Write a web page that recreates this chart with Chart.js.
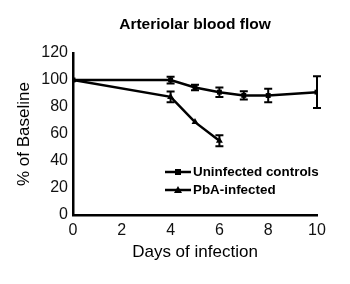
<!DOCTYPE html>
<html><head><meta charset="utf-8">
<script src="https://cdn.jsdelivr.net/npm/chart.js@4/dist/chart.umd.min.js"></script>
<style>html,body{margin:0;padding:0;background:#fff}#wrap{width:350px;height:284px;position:relative}</style>
</head><body><div id="wrap"><canvas id="c" width="350" height="284"></canvas></div>
<script>
const days_uninfected = [0, 4, 5, 6, 7, 8, 10];
const uninfected = [100, 100, 94.5, 91, 88.6, 88.5, 91];
const uninfected_err = [0, 2.5, 2, 3.5, 3, 5, 11.7];
const days_infected = [0, 4, 5, 6];
const infected = [100, 87.5, 68.8, 55];
const infected_err = [0, 4, 0, 4];
const seriesNames = ["Uninfected controls", "PbA-infected"];
const chartTitle = "Arteriolar blood flow";
const xTitle = "Days of infection";
const yTitle = "% of Baseline";
const FONT = "Arial, 'Liberation Sans', sans-serif";

const errorBars = {
  id: 'errorBars',
  afterDatasetsDraw(chart) {
    const ctx = chart.ctx, xs = chart.scales.x, ys = chart.scales.y;
    ctx.save();
    ctx.strokeStyle = '#000'; ctx.lineWidth = 2;
    chart.data.datasets.forEach(ds => {
      ds.data.forEach((p, i) => {
        const e = ds.err[i]; if (!e) return;
        const x = xs.getPixelForValue(p.x);
        const y1 = ys.getPixelForValue(p.y + e), y2 = ys.getPixelForValue(p.y - e);
        ctx.beginPath();
        ctx.moveTo(x, y1); ctx.lineTo(x, y2);
        ctx.moveTo(x - 4, y1); ctx.lineTo(x + 4, y1);
        ctx.moveTo(x - 4, y2); ctx.lineTo(x + 4, y2);
        ctx.stroke();
      });
    });
    ctx.restore();
  }
};

const extras = {
  id: 'extras',
  afterDraw(chart) {
    const ctx = chart.ctx;
    ctx.save();
    ctx.fillStyle = '#000';
    ctx.font = 'bold 15.5px ' + FONT;
    ctx.textAlign = 'center'; ctx.textBaseline = 'middle';
    ctx.fillText(chartTitle, 195, 25);
    // legend
    const items = [[seriesNames[0], 'rect', 172], [seriesNames[1], 'triangle', 190]];
    ctx.font = 'bold 13.4px ' + FONT;
    ctx.textAlign = 'left';
    items.forEach(([label, style, y]) => {
      ctx.strokeStyle = '#000'; ctx.lineWidth = 2.5;
      ctx.beginPath(); ctx.moveTo(165, y); ctx.lineTo(191, y); ctx.stroke();
      ctx.beginPath();
      if (style === 'rect') { ctx.rect(175, y - 3, 6, 6); }
      else { ctx.moveTo(178, y - 4); ctx.lineTo(182, y + 3); ctx.lineTo(174, y + 3); ctx.closePath(); }
      ctx.fill();
      ctx.fillText(label, 193, y + 0.5);
    });
    ctx.restore();
  }
};

new Chart(document.getElementById('c'), {
  type: 'scatter',
  data: {
    datasets: [
      { label: seriesNames[0], data: days_uninfected.map((d, i) => ({x: d, y: uninfected[i]})), err: uninfected_err,
        showLine: true, borderColor: '#000', backgroundColor: '#000', borderWidth: 2.5,
        pointStyle: 'rect', pointRadius: 3.5, pointBorderWidth: 0 },
      { label: seriesNames[1], data: days_infected.map((d, i) => ({x: d, y: infected[i]})), err: infected_err,
        showLine: true, borderColor: '#000', backgroundColor: '#000', borderWidth: 2.5,
        pointStyle: 'triangle', pointRadius: 4, pointBorderWidth: 0 }
    ]
  },
  options: {
    responsive: false, animation: false,
    layout: { padding: { top: 53, right: 33, left: 0, bottom: 0 } },
    plugins: { legend: { display: false }, title: { display: false }, tooltip: { enabled: false } },
    scales: {
      x: {
        type: 'linear', min: 0, max: 10,
        afterFit: s => { s.height = 69; },
        grid: { display: false, drawOnChartArea: false, tickLength: 4, tickColor: '#000', tickWidth: 2 },
        border: { color: '#000', width: 2.5 },
        ticks: { stepSize: 1, color: '#111', font: { family: FONT, size: 16 }, padding: 2,
          callback: v => (v % 2 === 0 ? String(v) : '') },
        title: { display: true, text: xTitle, color: '#000', font: { family: FONT, size: 17 }, padding: { top: 0, bottom: 21 } }
      },
      y: {
        type: 'linear', min: 0, max: 120,
        afterFit: s => { s.width = 73; },
        grid: { display: false, drawOnChartArea: false, tickLength: 4, tickColor: '#000', tickWidth: 2 },
        border: { color: '#000', width: 2.5 },
        ticks: { stepSize: 10, color: '#111', font: { family: FONT, size: 16 }, padding: 1,
          callback: v => (v % 20 === 0 ? String(v) : '') },
        title: { display: true, text: yTitle, color: '#000', font: { family: FONT, size: 17 }, padding: { top: 14, bottom: 0 } }
      }
    }
  },
  plugins: [errorBars, extras]
});
</script></body></html>
